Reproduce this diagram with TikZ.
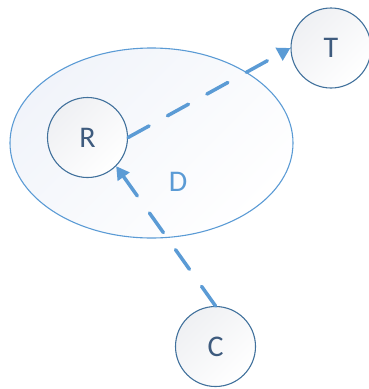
\documentclass[tikz,border=0pt]{standalone}
\usepackage{fontspec}
\setmainfont{Carlito}
\usetikzlibrary{arrows.meta,shapes.geometric}
\definecolor{accent}{HTML}{5B9BD5}
\definecolor{rim}{HTML}{41719C}
\definecolor{ink}{HTML}{3E5B7E}
\definecolor{haze}{HTML}{F1F4FA}
\definecolor{mist}{HTML}{EFF0F3}
\begin{document}
\begin{tikzpicture}[x=1pt,y=-1pt,
  region/.style={ellipse, draw=accent, line width=1.1pt, shading=axis,
    top color=haze, bottom color=white, shading angle=45,
    minimum width=283pt, minimum height=190pt, inner sep=0pt},
  agent/.style={circle, draw=rim, line width=1.1pt, shading=axis,
    top color=mist, bottom color=white, shading angle=45,
    minimum size=80pt, inner sep=0pt, text=ink, font=\fontsize{30}{30}\selectfont},
  tag/.style={text=accent, font=\fontsize{30}{30}\selectfont, inner sep=0pt},
  link/.style={draw=accent, line width=3.5pt, line cap=round,
    dash pattern=on 24pt off 21pt,
    -{Triangle[length=13pt,width=14pt]}}]
\useasboundingbox (0,0) rectangle (368,389);
% domain region and its label
\node[region] (D) at (151.5,143) {};
\node[tag] (Dl) at (178,182) {D};
% agents
\node[agent] (R) at (87.5,137.5) {R};
\node[agent] (T) at (331,48) {T};
\node[agent] (C) at (215.5,346.5) {C};
% dashed links
\draw[link] (R.east) -- (T.west);
\draw[link] (C.north) -- (R.south east);
\end{tikzpicture}
\end{document}
